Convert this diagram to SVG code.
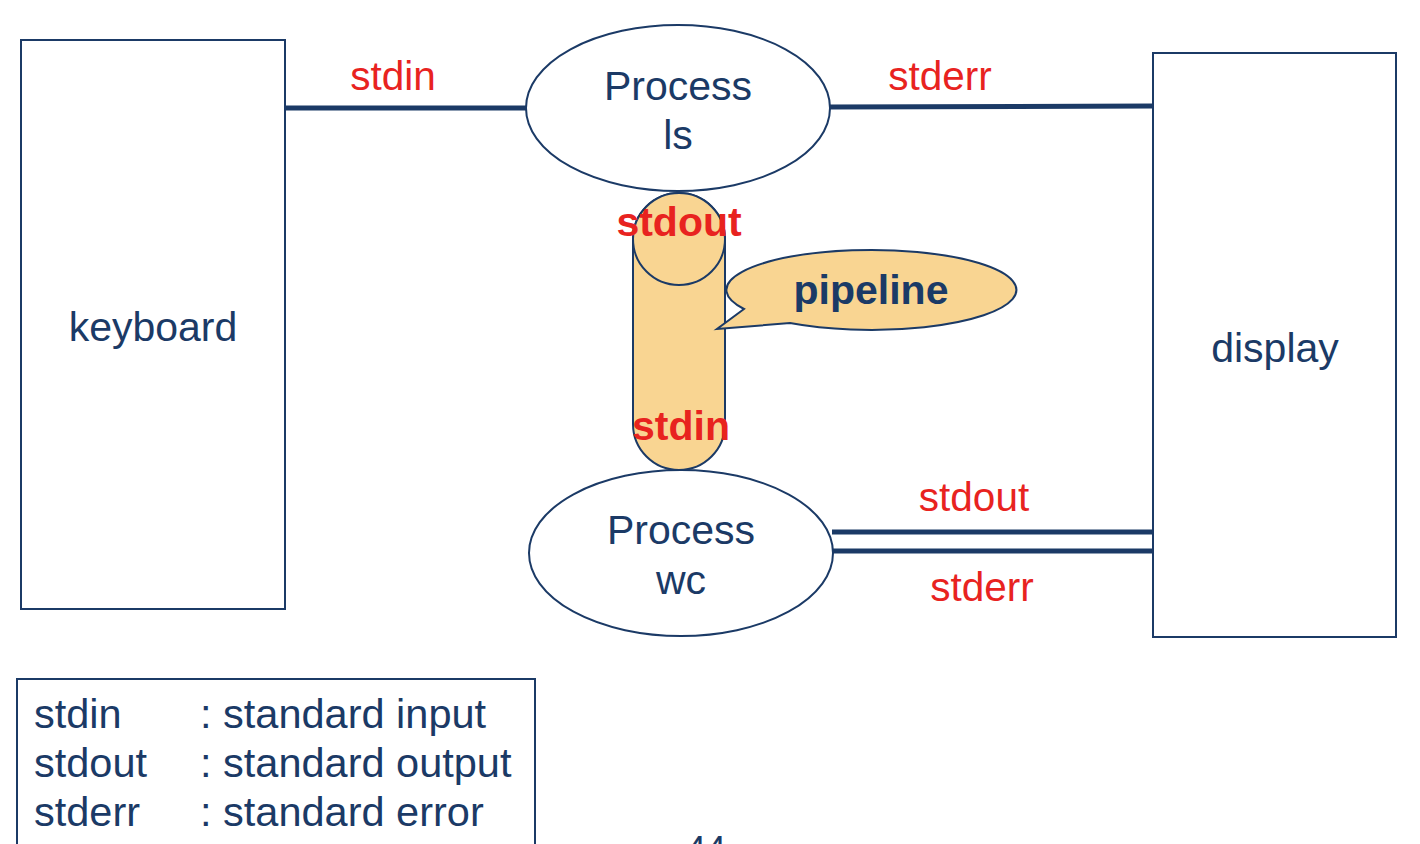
<svg xmlns="http://www.w3.org/2000/svg" width="1420" height="844" viewBox="0 0 1420 844">
<style>
.box{fill:#fff;stroke:#1b3a66;stroke-width:2}
.proc{fill:#fff;stroke:#1b3a66;stroke-width:2}
.pipe{fill:#f9d592;stroke:#1b3a66;stroke-width:2}
.wire{stroke:#1b3a66;stroke-width:5;fill:none}
.t{font-family:"Liberation Sans",Arial,sans-serif;font-size:41px;fill:#1b3a66}
.lg{font-family:"Liberation Sans",Arial,sans-serif;font-size:41.5px;fill:#1b3a66}
.r{font-family:"Liberation Sans",Arial,sans-serif;font-size:40.5px;fill:#e8231f}
.rb{font-family:"Liberation Sans",Arial,sans-serif;font-size:41px;font-weight:bold;fill:#e8231f}
.nb{font-family:"Liberation Sans",Arial,sans-serif;font-size:41px;font-weight:bold;fill:#1b3a66}
</style>
<rect width="1420" height="844" fill="#fff"/>
<g id="connectors">
<line class="wire" x1="285" y1="108" x2="527" y2="108"/>
<line class="wire" x1="829" y1="107" x2="1153" y2="106"/>
<line class="wire" x1="832" y1="532" x2="1153" y2="532"/>
<line class="wire" x1="832" y1="551" x2="1156" y2="551"/>
<text class="r" x="393" y="90" text-anchor="middle">stdin</text>
<text class="r" x="940" y="90" text-anchor="middle">stderr</text>
<text class="r" x="974" y="511" text-anchor="middle">stdout</text>
<text class="r" x="982" y="601" text-anchor="middle">stderr</text>
</g>
<g id="keyboard">
<rect class="box" x="21" y="40" width="264" height="569"/>
<text class="t" x="153" y="341" text-anchor="middle">keyboard</text>
</g>
<g id="display">
<rect class="box" x="1153" y="53" width="243" height="584"/>
<text class="t" x="1275" y="362" text-anchor="middle">display</text>
</g>
<g id="process-ls">
<ellipse class="proc" cx="678" cy="108" rx="152" ry="83"/>
<text class="t" x="678" y="100" text-anchor="middle">Process</text>
<text class="t" x="678" y="149" text-anchor="middle">ls</text>
</g>
<g id="process-wc">
<ellipse class="proc" cx="681" cy="553" rx="152" ry="83"/>
<text class="t" x="681" y="544" text-anchor="middle">Process</text>
<text class="t" x="681" y="594" text-anchor="middle">wc</text>
</g>
<g id="pipe">
<path class="pipe" d="M633,239 A46,46 0 0 1 725,239 L725,424 A46,46 0 0 1 633,424 Z"/>
<circle class="pipe" cx="679" cy="239" r="46"/>
<text class="rb" x="679" y="236" text-anchor="middle">stdout</text>
<text class="rb" x="681" y="440" text-anchor="middle">stdin</text>
</g>
<g id="pipeline-callout">
<path class="pipe" d="M744,309 L717,329 L790,323 A145,40 0 1 0 744,309 Z"/>
<text class="nb" x="871" y="304" text-anchor="middle">pipeline</text>
</g>
<g id="legend">
<rect class="box" x="17" y="679" width="518" height="180"/>
<text class="lg" x="34" y="728">stdin</text>
<text class="lg" x="200" y="728">: standard input</text>
<text class="lg" x="34" y="777">stdout</text>
<text class="lg" x="200" y="777">: standard output</text>
<text class="lg" x="34" y="826">stderr</text>
<text class="lg" x="200" y="826">: standard error</text>
</g>
<text class="t" x="706" y="862" text-anchor="middle" style="font-size:36px">44</text>
</svg>
